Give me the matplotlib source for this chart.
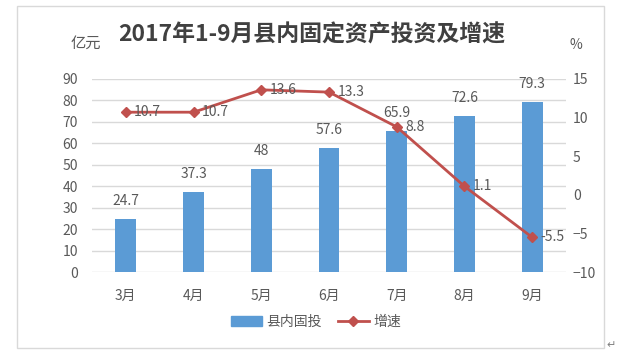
import matplotlib as mpl
mpl.use('Agg')
import matplotlib.pyplot as plt
from matplotlib.patches import Rectangle
from matplotlib.lines import Line2D
import numpy as np

plt.rcParams['font.family'] = ['Noto Sans CJK SC', 'DejaVu Sans']

# data
months = ['3月', '4月', '5月', '6月', '7月', '8月', '9月']
invest = [24.7, 37.3, 48, 57.6, 65.9, 72.6, 79.3]
growth = [10.7, 10.7, 13.6, 13.3, 8.8, 1.1, -5.5]
left_ticks = [0, 10, 20, 30, 40, 50, 60, 70, 80, 90]
right_ticks = [-10, -5, 0, 5, 10, 15]

bar_color = '#5B9BD5'
line_color = '#C0504D'
text_color = '#595959'

fig = plt.figure(figsize=(6.29, 3.58), dpi=100)
ax = fig.add_axes([92 / 629, 1 - 272 / 358, 474 / 629, 193 / 358])
ax2 = ax.twinx()

x = np.arange(len(months))
ax.bar(x, invest, width=0.31, color=bar_color, zorder=2)
for xi, v in zip(x, invest):
    ax.annotate('%g' % v, (xi, v), xytext=(0, 8), textcoords='offset points',
                ha='center', va='bottom', fontsize=10, color=text_color)

ax2.plot(x, growth, color=line_color, lw=2, marker='D', ms=5, zorder=3)
for xi, v in zip(x, growth):
    ax2.annotate('%g' % v, (xi, v), xytext=(6, 0), textcoords='offset points',
                 ha='left', va='center', fontsize=10, color=text_color)

ax.set_xlim(-0.5, len(months) - 0.5)
ax.set_ylim(0, 90)
ax.set_yticks(left_ticks)
ax2.set_ylim(-10, 15)
ax2.set_yticks(right_ticks)
ax.set_xticks(x)
ax.set_xticklabels(months)

ax.grid(axis='y', color='#D9D9D9', lw=1, zorder=0)
ax.set_axisbelow(True)
for a in (ax, ax2):
    for s in a.spines.values():
        s.set_visible(False)
    a.tick_params(length=0, labelsize=10, colors=text_color)
ax.tick_params(axis='y', pad=10)
ax2.tick_params(axis='y', pad=5)
ax.tick_params(axis='x', pad=12)

fig.text(312 / 629, 1 - 35 / 358, '2017年1-9月县内固定资产投资及增速', ha='center', va='center',
         fontsize=16.5, fontweight='bold', color='#404040')
fig.text(86 / 629, 1 - 43 / 358, '亿元', ha='center', va='center', fontsize=11, color=text_color)
fig.text(576 / 629, 1 - 45 / 358, '%', ha='center', va='center', fontsize=10, color=text_color)

handles = [Rectangle((0, 0), 1, 1, color=bar_color),
           Line2D([0], [0], color=line_color, lw=2, marker='D', ms=5)]
fig.legend(handles, ['县内固投', '增速'], loc='center', bbox_to_anchor=(316 / 629, 1 - 322 / 358),
           ncol=2, frameon=False, fontsize=10, labelcolor=text_color,
           handlelength=2.2, handletextpad=0.3, columnspacing=1.2)

# outer frame
fig.patches.append(Rectangle((17 / 629, 1 - 348 / 358), 587 / 629, 342 / 358,
                             transform=fig.transFigure, fill=False, ec='#D9D9D9', lw=1))
fig.text(611 / 629, 1 - 345 / 358, '↵', ha='center', va='center', fontsize=8, color='#808080')

fig.savefig('out.png', dpi=100)
